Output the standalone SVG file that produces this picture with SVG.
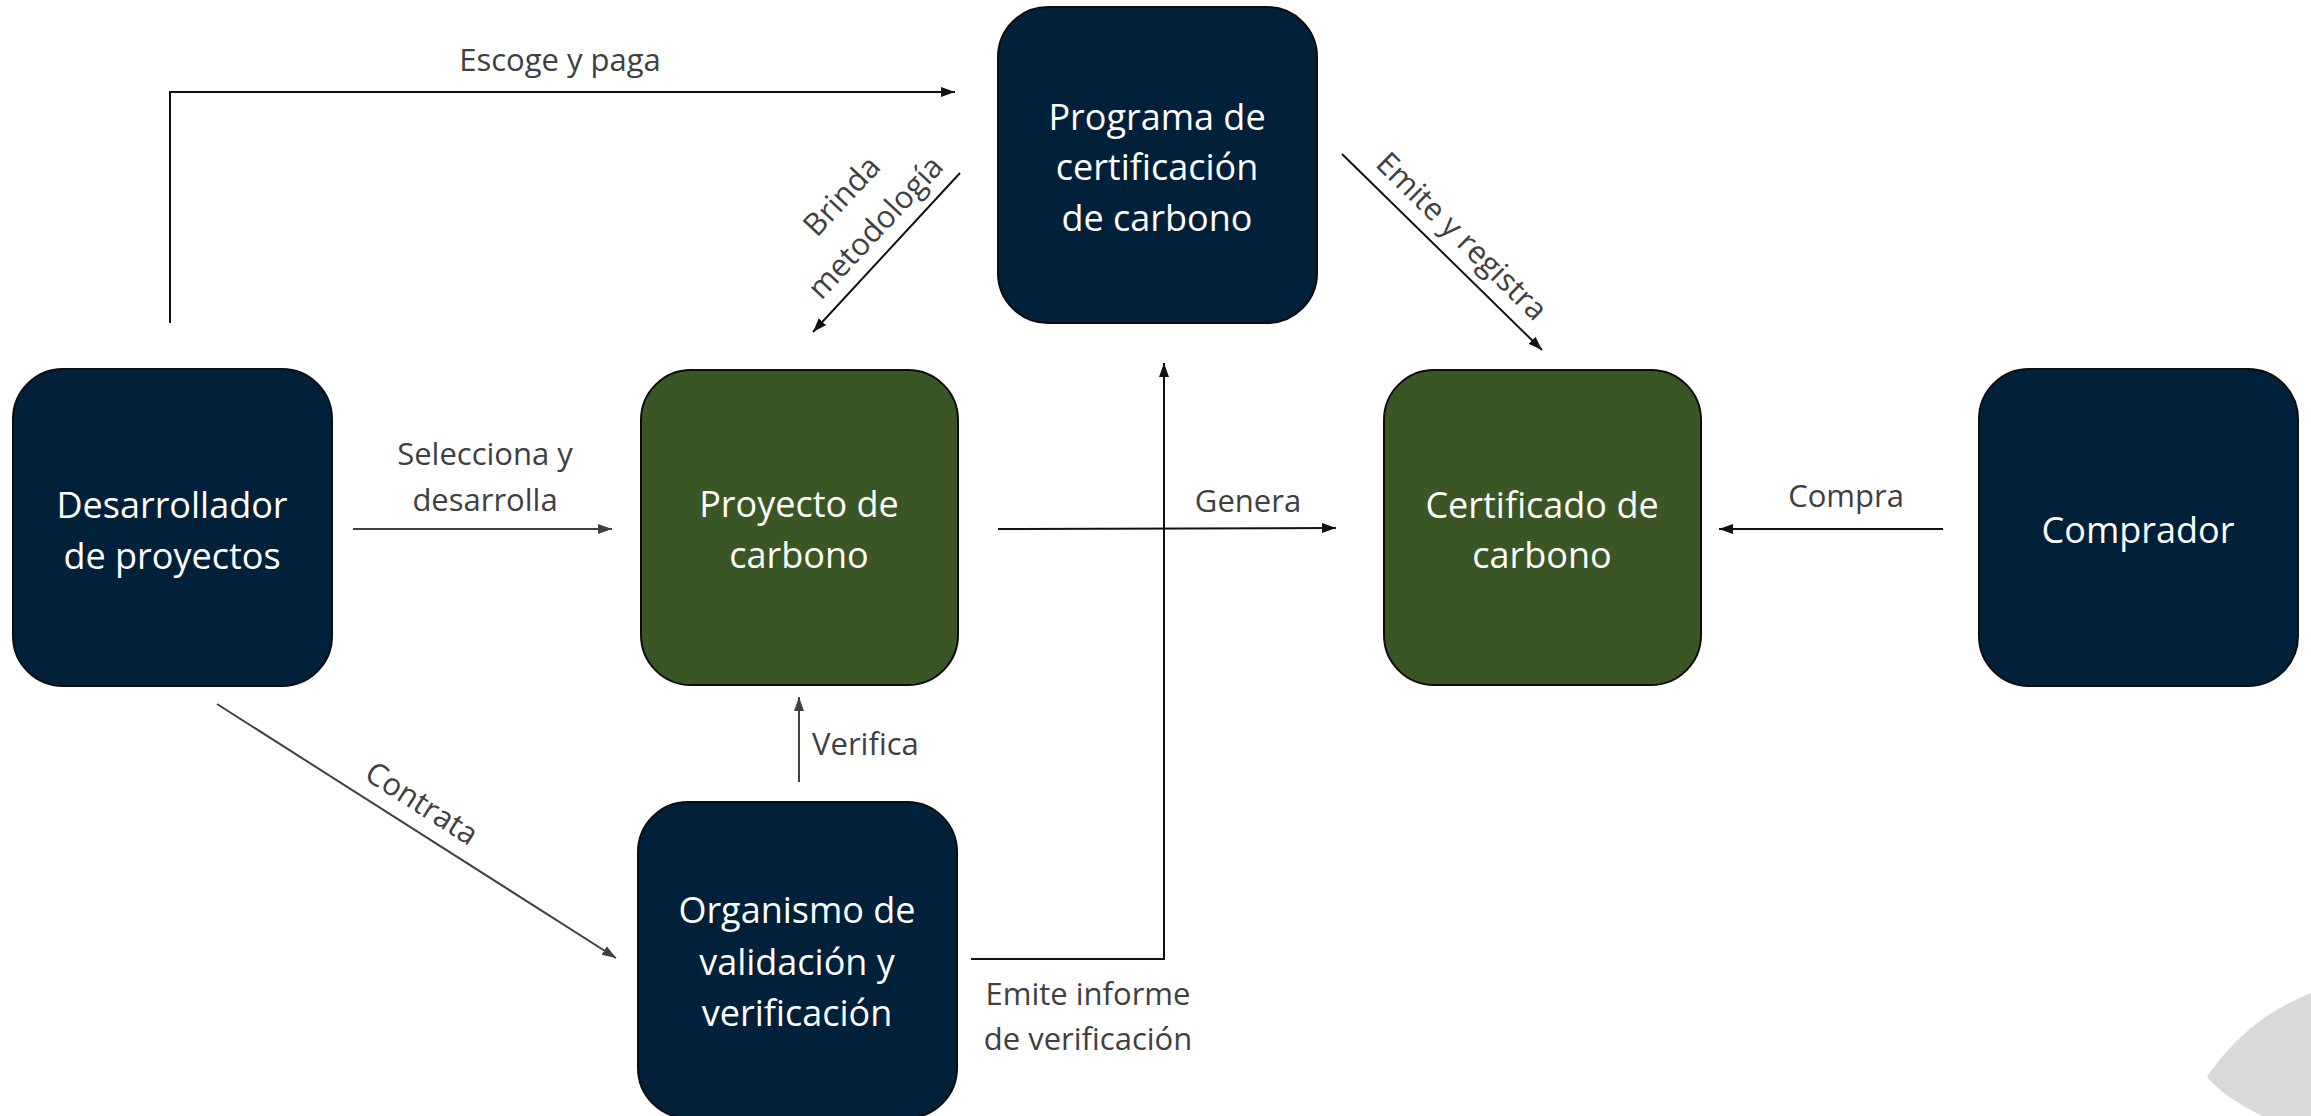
<svg xmlns="http://www.w3.org/2000/svg" width="2311" height="1116" viewBox="0 0 2311 1116">
<style>
.box{stroke:#0d0d0d;stroke-width:2}
.navy{fill:#01203a}
.green{fill:#3a5625}
.nt{font-family:"Open Sans","DejaVu Sans",sans-serif;font-size:36px;fill:#ffffff;text-anchor:middle}
.lt{font-family:"Open Sans","DejaVu Sans",sans-serif;font-size:31px;fill:#404040;text-anchor:middle}
.ln{fill:none;stroke:#111;stroke-width:2}
.lg{fill:none;stroke:#404040;stroke-width:2}
</style>
<defs>
<marker id="ah" markerUnits="userSpaceOnUse" markerWidth="16" markerHeight="12" refX="14" refY="6" orient="auto">
<path d="M0,1 L14,6 L0,11 Z" fill="#111"/>
</marker>
<marker id="ahg" markerUnits="userSpaceOnUse" markerWidth="16" markerHeight="12" refX="14" refY="6" orient="auto">
<path d="M0,1 L14,6 L0,11 Z" fill="#404040"/>
</marker>
</defs>
<rect width="2311" height="1116" fill="#ffffff"/>
<path d="M2207,1077 C2228,1045 2262,1012 2311,993 L2311,1116 L2262,1116 C2238,1104 2220,1092 2207,1077 Z" fill="#d9d9d9"/>

<g id="connectors">
<polyline class="ln" points="170,323 170,92 955,92" marker-end="url(#ah)"/>
<line class="ln" x1="960" y1="173" x2="813" y2="332" marker-end="url(#ah)"/>
<line class="ln" x1="1342" y1="154" x2="1542" y2="350" marker-end="url(#ah)"/>
<line class="lg" x1="353" y1="529" x2="612" y2="529" marker-end="url(#ahg)"/>
<line class="ln" x1="998" y1="529" x2="1336" y2="528" marker-end="url(#ah)"/>
<line class="ln" x1="1943" y1="529" x2="1719" y2="529" marker-end="url(#ah)"/>
<line class="lg" x1="217" y1="704" x2="616" y2="958" marker-end="url(#ahg)"/>
<line class="lg" x1="799" y1="782" x2="799" y2="697" marker-end="url(#ahg)"/>
<polyline class="ln" points="971,959 1164,959 1164,363" marker-end="url(#ah)"/>
<text class="lt" x="560" y="71">Escoge y paga</text>
<g transform="translate(859,212) rotate(-47)">
<text class="lt" x="0" y="-13">Brinda</text>
<text class="lt" x="0" y="33">metodología</text>
</g>
<g transform="translate(1462,236) rotate(44.4)">
<text class="lt" x="0" y="11">Emite y registra</text>
</g>
<text class="lt" x="485" y="465">Selecciona y</text>
<text class="lt" x="485" y="511">desarrolla</text>
<text class="lt" x="1248" y="512">Genera</text>
<text class="lt" x="1846" y="507">Compra</text>
<g transform="translate(422,803) rotate(32.5)">
<text class="lt" x="0" y="11">Contrata</text>
</g>
<text class="lt" x="812" y="755" style="text-anchor:start">Verifica</text>
<text class="lt" x="1088" y="1005">Emite informe</text>
<text class="lt" x="1088" y="1050">de verificación</text>
</g>

<g id="programa">
<rect class="box navy" x="998" y="7" width="319" height="316" rx="50"/>
<text class="nt" x="1157" y="130">Programa de</text>
<text class="nt" x="1157" y="180">certificación</text>
<text class="nt" x="1157" y="231">de carbono</text>
</g>
<g id="desarrollador">
<rect class="box navy" x="13" y="369" width="319" height="317" rx="50"/>
<text class="nt" x="172" y="518">Desarrollador</text>
<text class="nt" x="172" y="569">de proyectos</text>
</g>
<g id="proyecto">
<rect class="box green" x="641" y="370" width="317" height="315" rx="50"/>
<text class="nt" x="799" y="517">Proyecto de</text>
<text class="nt" x="799" y="568">carbono</text>
</g>
<g id="certificado">
<rect class="box green" x="1384" y="370" width="317" height="315" rx="50"/>
<text class="nt" x="1542" y="518">Certificado de</text>
<text class="nt" x="1542" y="568">carbono</text>
</g>
<g id="comprador">
<rect class="box navy" x="1979" y="369" width="319" height="317" rx="50"/>
<text class="nt" x="2138" y="543">Comprador</text>
</g>
<g id="organismo">
<rect class="box navy" x="638" y="802" width="319" height="316" rx="50"/>
<text class="nt" x="797" y="923">Organismo de</text>
<text class="nt" x="797" y="975">validación y</text>
<text class="nt" x="797" y="1026">verificación</text>
</g>
</svg>
